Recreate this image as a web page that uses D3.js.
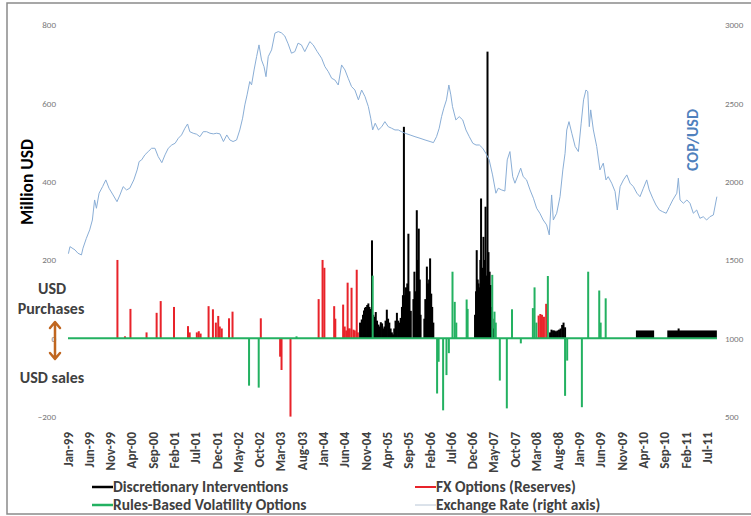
<!DOCTYPE html>
<html>
<head>
<meta charset="utf-8">
<script src="https://cdn.jsdelivr.net/npm/d3@7"></script>
<style>
  body { margin: 0; background: #fff; }
  svg { font-family: Calibri, Carlito, Lato, sans-serif; }
</style>
</head>
<body>
<div id="chart"></div>
<script>
// x axis labels, every 5 months
const tickLabels = ["Jan-99","Jun-99","Nov-99","Apr-00","Sep-00","Feb-01","Jul-01","Dec-01","May-02","Oct-02",
  "Mar-03","Aug-03","Jan-04","Jun-04","Nov-04","Apr-05","Sep-05","Feb-06","Jul-06","Dec-06","May-07","Oct-07",
  "Mar-08","Aug-08","Jan-09","Jun-09","Nov-09","Apr-10","Sep-10","Feb-11","Jul-11"];
const leftTicks = [-200, 0, 200, 400, 600, 800];
const rightTicks = [500, 1000, 1500, 2000, 2500, 3000];

// COP/USD exchange rate (right axis)
const exchangeRate = [["1999-01-04",1540],["1999-01-15",1585],["1999-02-20",1564],["1999-03-13",1543],["1999-04-07",1532],["1999-04-18",1575],["1999-05-12",1638],["1999-06-05",1692],["1999-06-24",1755],["1999-07-10",1883],["1999-07-23",1830],["1999-08-11",1926],["1999-09-05",1968],["1999-09-28",2011],["1999-10-21",1958],["1999-11-19",1915],["1999-12-17",1872],
  ["2000-01-07",1915],["2000-01-30",1968],["2000-02-23",1947],["2000-03-17",1958],["2000-04-15",2011],["2000-05-09",2075],["2000-05-23",2128],["2000-06-10",2139],["2000-07-03",2171],["2000-07-27",2192],["2000-08-20",2213],["2000-09-13",2213],["2000-10-06",2160],["2000-11-01",2121],["2000-11-24",2171],["2000-12-17",2213],
  ["2001-01-11",2234],["2001-02-04",2245],["2001-02-27",2277],["2001-03-22",2298],["2001-04-15",2341],["2001-05-04",2368],["2001-05-20",2319],["2001-06-13",2309],["2001-07-07",2303],["2001-07-31",2287],["2001-08-24",2319],["2001-09-17",2319],["2001-10-11",2309],["2001-11-04",2305],["2001-11-28",2309],["2001-12-21",2305],
  ["2002-01-15",2256],["2002-02-08",2298],["2002-03-02",2266],["2002-03-25",2256],["2002-04-19",2266],["2002-05-12",2330],["2002-06-01",2405],["2002-06-17",2490],["2002-07-03",2554],["2002-07-22",2639],["2002-08-04",2618],["2002-08-22",2713],["2002-09-09",2798],["2002-09-26",2873],["2002-10-14",2777],["2002-11-01",2734],["2002-11-15",2670],["2002-12-01",2798],["2002-12-25",2841],
  ["2003-01-18",2948],["2003-02-11",2958],["2003-03-05",2950],["2003-03-29",2930],["2003-04-22",2880],["2003-05-16",2820],["2003-06-09",2830],["2003-07-02",2884],["2003-07-26",2873],["2003-08-19",2830],["2003-09-24",2894],["2003-10-18",2873],["2003-11-16",2830],["2003-12-17",2788],
  ["2004-01-10",2734],["2004-02-03",2702],["2004-02-27",2660],["2004-03-21",2649],["2004-04-14",2617],["2004-05-08",2745],["2004-06-01",2713],["2004-06-24",2660],["2004-07-18",2607],["2004-08-11",2585],["2004-09-05",2522],["2004-09-28",2585],["2004-10-22",2543],["2004-11-15",2479],["2004-12-02",2405],["2004-12-16",2330],
  ["2005-01-03",2373],["2005-01-26",2330],["2005-02-19",2351],["2005-03-13",2383],["2005-04-06",2351],["2005-04-30",2341],["2005-05-24",2330],["2005-06-17",2330],["2005-07-10",2319],["2005-08-04",2309],["2005-09-09",2298],["2005-10-14",2287],["2005-11-19",2277],["2005-12-25",2266],
  ["2006-01-30",2256],["2006-02-23",2249],["2006-03-17",2287],["2006-04-05",2341],["2006-04-22",2415],["2006-05-08",2469],["2006-05-27",2522],["2006-06-13",2617],["2006-06-27",2554],["2006-07-09",2479],["2006-08-02",2394],["2006-08-26",2415],["2006-09-20",2394],["2006-10-13",2330],["2006-11-06",2287],["2006-12-01",2245],["2006-12-24",2234],
  ["2007-01-17",2234],["2007-02-10",2213],["2007-03-04",2181],["2007-03-28",2139],["2007-04-21",2043],["2007-05-15",1926],["2007-06-01",1958],["2007-06-25",1947],["2007-07-18",1940],["2007-08-04",2139],["2007-08-23",2192],["2007-09-12",2032],["2007-09-28",1990],["2007-10-21",2043],["2007-11-08",2086],["2007-11-26",2032],["2007-12-20",2011],
  ["2008-01-14",1947],["2008-02-07",1894],["2008-03-01",1830],["2008-03-24",1798],["2008-04-17",1755],["2008-05-11",1724],["2008-05-30",1660],["2008-06-16",1915],["2008-06-28",1755],["2008-07-22",1798],["2008-08-15",1904],["2008-09-04",2075],["2008-09-20",2181],["2008-10-02",2330],["2008-10-18",2383],["2008-11-07",2309],["2008-12-01",2224],["2008-12-24",2192],
  ["2009-01-13",2373],["2009-01-30",2522],["2009-02-16",2585],["2009-03-01",2575],["2009-03-12",2351],["2009-03-22",2458],["2009-04-10",2330],["2009-05-04",2224],["2009-05-27",2075],["2009-06-20",2118],["2009-07-09",2011],["2009-07-25",2032],["2009-08-19",1990],["2009-09-12",1937],["2009-09-28",1819],["2009-10-18",1968],["2009-11-11",2011],["2009-12-05",2043],["2009-12-28",1990],
  ["2010-01-21",1968],["2010-02-15",1926],["2010-03-09",1904],["2010-04-02",1958],["2010-04-26",2011],["2010-05-14",1947],["2010-06-08",1894],["2010-07-01",1851],["2010-07-25",1819],["2010-08-18",1808],["2010-09-12",1798],["2010-10-05",1840],["2010-10-29",1883],["2010-11-27",1926],["2010-12-08",2022],["2010-12-20",1883],
  ["2011-01-13",1862],["2011-02-07",1883],["2011-03-01",1862],["2011-03-25",1798],["2011-04-18",1819],["2011-05-11",1766],["2011-06-04",1776],["2011-06-28",1755],["2011-07-21",1776],["2011-08-15",1787],["2011-09-09",1904]];

// FX options (reserves accumulation / decumulation), million USD
const fxOptions = [["1999-12-20",200],["2000-02-12",5],["2000-03-22",75],["2000-07-15",15],["2000-09-25",65],["2000-10-24",95],
  ["2001-01-27",80],["2001-05-07",31],["2001-05-19",15],["2001-07-09",15],["2001-07-23",18],["2001-08-05",12],
  ["2001-10-01",82],["2001-11-01",74],["2001-11-22",40],["2001-12-09",57],["2001-12-20",30],["2002-01-03",25],
  ["2002-02-24",51],["2002-03-21",68],["2002-10-09",51],["2003-02-24",-47],["2003-03-06",-81],["2003-05-09",-200],
  ["2003-11-26",100],["2003-12-24",200],["2004-01-06",180],["2004-03-16",82],["2004-03-24",50],["2004-05-19",86],
  ["2004-05-30",30],["2004-06-10",20],["2004-06-20",142],["2004-06-28",25],["2004-07-05",25],["2004-07-18",129],
  ["2004-08-01",22],["2004-08-10",20],["2004-08-24",175],["2004-09-01",15],
  ["2008-03-15",58],["2008-03-27",62],["2008-04-08",60],["2008-04-22",55],["2008-05-08",88]];

// Rules-based volatility options, million USD
const volatilityOptions = [["2002-07-17",-121],["2002-09-24",-126],["2003-06-21",5],["2004-12-16",160],
  ["2006-03-21",-141],["2006-04-01",-60],["2006-05-03",-184],["2006-05-27",-94],["2006-06-13",-38],
  ["2006-07-09",170],["2006-07-25",93],["2006-08-05",40],["2006-10-18",99],["2006-10-25",75],
  ["2007-04-19",162],["2007-05-05",68],["2007-05-14",40],["2007-06-12",-108],["2007-08-01",-179],
  ["2007-09-07",74],["2007-11-09",-13],["2008-02-03",77],["2008-02-15",130],["2008-02-28",40],["2008-05-20",159],
  ["2008-09-20",-147],["2008-10-05",-57],["2009-01-18",-176],["2009-03-04",170],["2009-05-22",122],
  ["2009-06-01",40],["2009-07-07",102]];

// Discretionary interventions, million USD
const discretionary = [["2004-09-17",40],["2004-09-29",48],["2004-10-08",60],["2004-10-15",71],["2004-10-22",78],["2004-10-29",80],
  ["2004-11-07",85],["2004-11-15",89],["2004-11-23",80],["2004-12-02",75],["2004-12-11",250],["2004-12-20",60],["2004-12-29",55],
  ["2005-01-07",67],["2005-01-16",45],["2005-01-26",35],["2005-02-04",30],["2005-02-12",41],["2005-02-21",38],["2005-03-01",25],
  ["2005-03-10",30],["2005-03-18",45],["2005-03-27",73],["2005-04-05",50],["2005-04-14",40],["2005-04-23",25],["2005-05-02",15],
  ["2005-05-10",10],["2005-05-19",25],["2005-05-28",45],["2005-06-07",65],["2005-06-16",45],["2005-06-25",40],["2005-07-04",52],
  ["2005-07-13",80],["2005-07-20",110],["2005-07-27",540],["2005-08-04",110],["2005-08-11",130],["2005-08-20",140],["2005-08-28",267],
  ["2005-09-05",120],["2005-09-14",70],["2005-10-03",100],["2005-10-10",170],["2005-10-18",120],["2005-10-27",327],["2005-11-03",200],
  ["2005-11-10",280],["2005-11-17",150],["2005-11-23",60],["2005-12-20",50],["2005-12-27",100],["2006-01-07",183],["2006-01-15",140],
  ["2006-01-23",150],["2006-01-30",204],["2006-02-07",114],["2006-02-14",80],["2006-02-22",40],
  ["2006-12-17",60],["2006-12-24",120],["2006-12-29",225],["2007-01-05",150],["2007-01-11",140],["2007-01-18",130],["2007-01-24",200],
  ["2007-01-29",357],["2007-02-06",180],["2007-02-15",259],["2007-02-23",200],["2007-03-02",336],["2007-03-10",160],["2007-03-16",732],
  ["2007-03-23",220],["2007-03-31",170],["2007-04-07",136],["2007-04-14",80],["2007-04-21",50],["2007-04-28",25],
  ["2008-06-05",15],["2008-06-15",22],["2008-06-26",20],["2008-07-06",20],["2008-07-17",18],["2008-07-28",20],["2008-08-08",22],
  ["2008-08-19",25],["2008-08-30",34],["2008-09-09",40],["2008-09-20",28],["2010-12-10",25]];

// daily purchase auction programmes: start, end, million USD per day
const purchasePrograms = [["2010-02-08","2010-06-18",20],["2010-09-20","2011-09-09",20]];

const W = 751, H = 516;
const parse = d3.timeParse("%Y-%m-%d");
const parseTick = d3.timeParse("%b-%y");

const svg = d3.select("#chart").append("svg")
  .attr("width", W).attr("height", H);

// chart frame
svg.append("rect")
  .attr("x", 7).attr("y", 3).attr("width", 760).attr("height", 511)
  .attr("fill", "none").attr("stroke", "#8a8a8a").attr("stroke-width", 1.5);

var x = d3.scaleTime()
  .domain([parse("1999-01-01"), parse("2011-09-10")])
  .range([68, 717]);
var yL = d3.scaleLinear().domain([-200, 800]).range([416.6, 25]);
var yR = d3.scaleLinear().domain([500, 3000]).range([416.6, 25]);

// left axis (labels only)
svg.append("g")
  .attr("transform", "translate(56,0)")
  .call(d3.axisLeft(yL).tickValues(leftTicks).tickSize(0).tickPadding(0).tickFormat(d3.format("d")))
  .call(g => g.select(".domain").remove())
  .selectAll("text")
  .style("font-size", "9px").style("fill", "#7a7a7a")
  .style("font-family", "Calibri, Carlito, Lato, sans-serif");

// right axis (labels only)
svg.append("g")
  .attr("transform", "translate(725,0)")
  .call(d3.axisRight(yR).tickValues(rightTicks).tickSize(0).tickPadding(0).tickFormat(d3.format("d")))
  .call(g => g.select(".domain").remove())
  .selectAll("text")
  .style("font-size", "9px").style("fill", "#7a7a7a")
  .style("font-family", "Calibri, Carlito, Lato, sans-serif");

// x axis labels, rotated
svg.append("g")
  .selectAll("text")
  .data(tickLabels)
  .enter()
  .append("text")
  .attr("transform", d => "translate(" + (x(parseTick(d)) + 4.5) + ",432)rotate(-90)")
  .attr("text-anchor", "end")
  .style("font-size", "13px")
  .style("font-weight", "bold")
  .style("fill", "#404040")
  .text(d => d);

function drawSpikes(data, color) {
  svg.append("g")
    .selectAll("rect")
    .data(data)
    .enter()
    .append("rect")
    .attr("x", d => x(parse(d[0])) - 1)
    .attr("width", 2)
    .attr("y", d => Math.min(yL(d[1]), yL(0)))
    .attr("height", d => Math.abs(yL(d[1]) - yL(0)))
    .attr("fill", color);
}

const black = "#000000", green = "#23b161", red = "#e8232a", blue = "#8aaed6";

// discretionary interventions
drawSpikes(discretionary, black);
svg.append("g")
  .selectAll("rect")
  .data(purchasePrograms)
  .enter()
  .append("rect")
  .attr("x", d => x(parse(d[0])))
  .attr("width", d => x(parse(d[1])) - x(parse(d[0])))
  .attr("y", d => yL(d[2]))
  .attr("height", d => yL(0) - yL(d[2]))
  .attr("fill", black);

drawSpikes(fxOptions, red);

// zero line of the volatility options series
svg.append("line")
  .attr("x1", x.range()[0]).attr("x2", x.range()[1])
  .attr("y1", yL(0)).attr("y2", yL(0))
  .attr("stroke", green).attr("stroke-width", 2);
drawSpikes(volatilityOptions, green);

// exchange rate
svg.append("path")
  .datum(exchangeRate)
  .attr("fill", "none")
  .attr("stroke", blue)
  .attr("stroke-width", 1)
  .attr("d", d3.line().x(d => x(parse(d[0]))).y(d => yR(d[1])));

// axis titles
svg.append("text")
  .attr("transform", "translate(33,182)rotate(-90)")
  .attr("text-anchor", "middle")
  .style("font-size", "17.5px").style("font-weight", "bold").style("fill", "#000")
  .text("Million USD");

svg.append("text")
  .attr("transform", "translate(698,140)rotate(-90)")
  .attr("text-anchor", "middle")
  .style("font-size", "16px").style("font-weight", "bold").style("fill", "#4f81bd")
  .text("COP/USD");

// purchases / sales annotation
const note = svg.append("g")
  .style("font-size", "16px").style("font-weight", "bold").style("fill", "#404040")
  .attr("text-anchor", "middle");
note.append("text").attr("x", 52).attr("y", 294).text("USD");
note.append("text").attr("x", 51).attr("y", 314).text("Purchases");
note.append("text").attr("x", 52).attr("y", 383).text("USD sales");

const arrowColor = "#c0661f";
svg.append("path")
  .attr("d", "M55,323 L55,358 M50,328 L55,322 L60,328 M50,353 L55,359 L60,353")
  .attr("fill", "none").attr("stroke", arrowColor).attr("stroke-width", 2.5)
  .attr("stroke-linecap", "round").attr("stroke-linejoin", "round");

// legend
const legendItems = [
  {label: "Discretionary Interventions", color: black, width: 2.5, x: 92, y: 487},
  {label: "Rules-Based Volatility Options", color: green, width: 2.5, x: 92, y: 505},
  {label: "FX Options (Reserves)", color: red, width: 2, x: 415, y: 487},
  {label: "Exchange Rate (right axis)", color: "#b8c6d6", width: 1, x: 415, y: 505}
];
const legend = svg.append("g");
legendItems.forEach(function(d) {
  legend.append("line")
    .attr("x1", d.x).attr("x2", d.x + 21)
    .attr("y1", d.y).attr("y2", d.y)
    .attr("stroke", d.color).attr("stroke-width", d.width);
  legend.append("text")
    .attr("x", d.x + 21).attr("y", d.y + 5)
    .style("font-size", "15.5px").style("font-weight", "bold").style("fill", "#404040")
    .text(d.label);
});
</script>
</body>
</html>
